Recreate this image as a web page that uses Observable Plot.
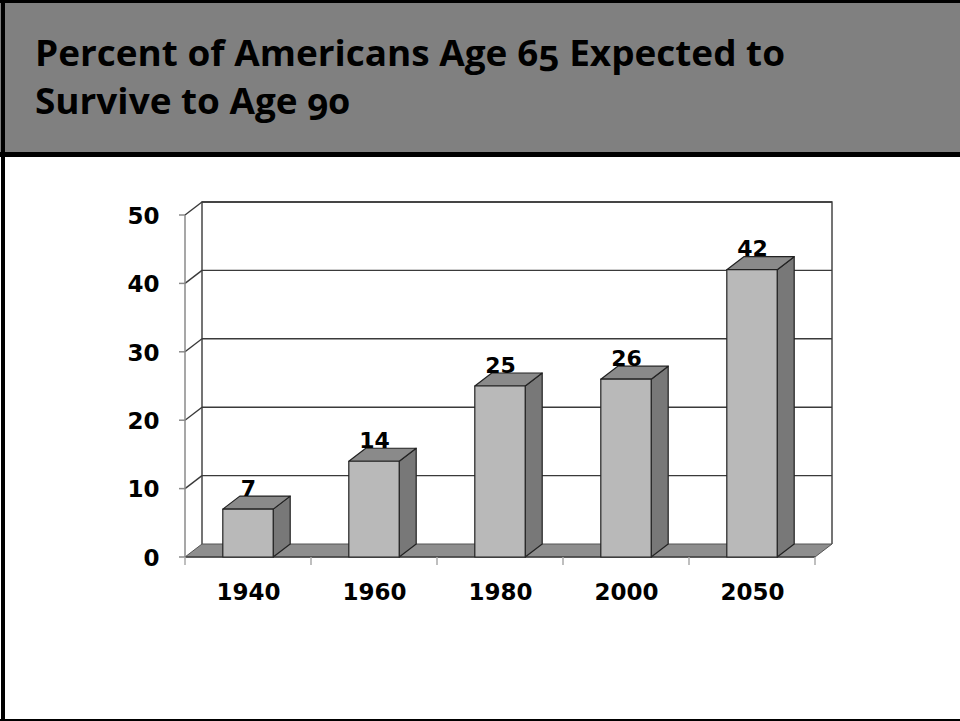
<!DOCTYPE html>
<html>
<head>
<meta charset="utf-8">
<script src="https://cdn.jsdelivr.net/npm/d3@7"></script>
<script src="https://cdn.jsdelivr.net/npm/@observablehq/plot@0.6"></script>
<style>
  html, body { margin: 0; padding: 0; background: #fff; }
  #slide { position: relative; width: 960px; height: 721px; overflow: hidden; background: #fff; }
  #header { position: absolute; left: 0; top: 0; width: 960px; height: 152px; background: #808080; }
  #band { position: absolute; left: 0; top: 152px; width: 960px; height: 5px; background: #000; }
  #borderTop { position: absolute; left: 0; top: 0; width: 960px; height: 3px; background: #000; }
  #borderLeft { position: absolute; left: 1px; top: 0; width: 4px; height: 721px; background: #000; }
  #borderBottom { position: absolute; left: 0; top: 719px; width: 960px; height: 2px; background: #000; }
  .title { position: absolute; left: 35px; white-space: nowrap; font-family: "Open Sans", sans-serif; font-weight: 700;
           font-size: 36px; line-height: 48px; color: #000; font-feature-settings: "onum" 1; font-variant-numeric: oldstyle-nums;
           transform-origin: 0 0; }
  #chart { position: absolute; left: 0; top: 157px; }
</style>
</head>
<body>
<div id="slide">
  <div id="header"></div>
  <div class="title" id="t1" style="top:29px">Percent of Americans Age 65 Expected to</div>
  <div class="title" id="t2" style="top:77px">Survive to Age 90</div>
  <div id="band"></div>
  <div id="chart"></div>
  <div id="borderTop"></div>
  <div id="borderLeft"></div>
  <div id="borderBottom"></div>
</div>
<script>
// Survey years and the share (%) of 65-year-olds expected to reach 90
const years = ["1940", "1960", "1980", "2000", "2050"];
const percents = [7, 14, 25, 26, 42];
const yTicks = [0, 10, 20, 30, 40, 50];

const data = years.map((year, i) => ({year, percent: percents[i]}));

// pseudo-3D depth offset, in pixels
const DX = 17, DY = -13;

// back wall, side wall, gridlines and floor
function walls(index, {x, y}) {
  const g = d3.create("svg:g");
  const x0 = x(years[0]);
  const x1 = x(years[years.length - 1]) + x.bandwidth();
  const yb = y(0), yt = y(yTicks[yTicks.length - 1]);
  // back wall frame
  g.append("path")
    .attr("d", `M${x0 + DX},${yb + DY}V${yt + DY}H${x1 + DX}V${yb + DY}`)
    .attr("fill", "#fff").attr("stroke", "#3a3a3a").attr("stroke-width", 1.4);
  for (const t of yTicks.slice(1)) {
    // gridline on back wall
    g.append("line")
      .attr("x1", x0 + DX).attr("x2", x1 + DX)
      .attr("y1", y(t) + DY).attr("y2", y(t) + DY)
      .attr("stroke", "#3a3a3a").attr("stroke-width", 1.4);
    // gridline across side wall
    g.append("line")
      .attr("x1", x0).attr("x2", x0 + DX)
      .attr("y1", y(t)).attr("y2", y(t) + DY)
      .attr("stroke", "#3a3a3a").attr("stroke-width", 1.4);
  }
  // floor
  g.append("path")
    .attr("d", `M${x0},${yb}H${x1}L${x1 + DX},${yb + DY}H${x0 + DX}Z`)
    .attr("fill", "#8e8e8e").attr("stroke", "#555").attr("stroke-width", 1);
  g.append("line")
    .attr("x1", x0).attr("x2", x1).attr("y1", yb).attr("y2", yb)
    .attr("stroke", "#444").attr("stroke-width", 1.4);
  // front value axis
  g.append("line")
    .attr("x1", x0).attr("x2", x0).attr("y1", yb).attr("y2", yt)
    .attr("stroke", "#8a8a8a").attr("stroke-width", 1.5);
  for (const t of yTicks) {
    g.append("line")
      .attr("x1", x0 - 6).attr("x2", x0).attr("y1", y(t)).attr("y2", y(t))
      .attr("stroke", "#8a8a8a").attr("stroke-width", 1.5);
  }
  // category boundary ticks
  const bounds = years.map((d) => x(d)).concat([x1]);
  for (const bx of bounds) {
    g.append("line")
      .attr("x1", bx).attr("x2", bx).attr("y1", yb).attr("y2", yb + 8)
      .attr("stroke", "#aaa").attr("stroke-width", 1.5);
  }
  return g.node();
}

// 3D columns: side, top and front faces
function columns(index, {x, y}) {
  const g = d3.create("svg:g").attr("stroke", "#222").attr("stroke-width", 1.2).attr("stroke-linejoin", "round");
  const bw = x.bandwidth() * 0.4;
  const yb = y(0);
  for (const d of data) {
    const l = x(d.year) + (x.bandwidth() - bw) / 2, r = l + bw, t = y(d.percent);
    g.append("path")
      .attr("d", `M${r},${t}L${r + DX},${t + DY}V${yb + DY}L${r},${yb}Z`)
      .attr("fill", "#787878");
    g.append("path")
      .attr("d", `M${l},${t}L${l + DX},${t + DY}H${r + DX}L${r},${t}Z`)
      .attr("fill", "#8a8a8a");
    g.append("rect")
      .attr("x", l).attr("y", t).attr("width", bw).attr("height", yb - t)
      .attr("fill", "#b9b9b9");
  }
  return g.node();
}

const chart = Plot.plot({
  width: 960,
  height: 560,
  marginLeft: 183,
  marginRight: 143,
  marginTop: 58,
  marginBottom: 160,
  x: {type: "band", domain: years, padding: 0, axis: null},
  y: {domain: [0, 50], axis: null},
  style: {background: "transparent", overflow: "visible", fontFamily: "DejaVu Sans", fontWeight: "bold", color: "#000"},
  marks: [
    walls,
    columns,
    Plot.text(data, {x: "year", y: "percent", text: (d) => String(d.percent), lineAnchor: "middle", dy: -21, fontSize: 22, fill: "#000"}),
    Plot.text(yTicks, {y: (d) => d, text: (d) => String(d), frameAnchor: "left", textAnchor: "end", lineAnchor: "middle", dx: -24, dy: 1, fontSize: 23, fill: "#000"}),
    Plot.text(years, {x: (d) => d, text: (d) => d, frameAnchor: "bottom", lineAnchor: "middle", dy: 35, fontSize: 23, fill: "#000"})
  ]
});
document.getElementById("chart").appendChild(chart);

// narrow the title lines to the header's measure
const t1 = document.getElementById("t1"), t2 = document.getElementById("t2");
const k = 750 / t1.getBoundingClientRect().width;
t1.style.transform = `scaleX(${k})`;
t2.style.transform = `scaleX(${k})`;
</script>
</body>
</html>
